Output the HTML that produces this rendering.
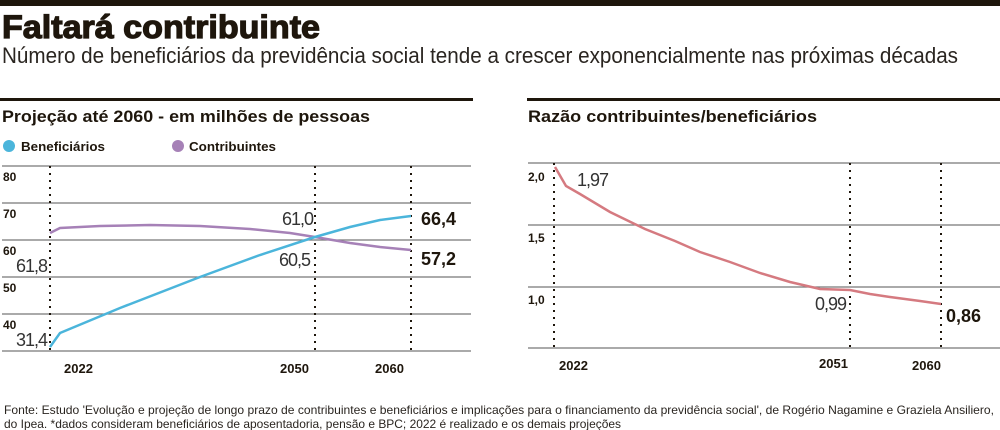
<!DOCTYPE html>
<html><head><meta charset="utf-8"><style>
html,body{margin:0;padding:0;background:#fff;}
svg{display:block;font-family:"Liberation Sans",sans-serif;}
</style></head><body>
<svg width="1000" height="430" viewBox="0 0 1000 430">
<rect x="0" y="0" width="1000" height="6" fill="#1e160c"/>
<text x="2" y="38" font-size="32" font-weight="bold" fill="#1e160c" stroke="#1e160c" stroke-width="1.2" textLength="318" lengthAdjust="spacingAndGlyphs">Faltará contribuinte</text>
<text x="2" y="63" font-size="22" fill="#2a2520" textLength="956" lengthAdjust="spacingAndGlyphs">Número de beneficiários da previdência social tende a crescer exponencialmente nas próximas décadas</text>
<rect x="0" y="98" width="473" height="3" fill="#1e160c"/>
<rect x="527" y="98" width="473" height="3" fill="#1e160c"/>
<text x="2" y="122" font-size="17" font-weight="bold" fill="#1e160c" textLength="368" lengthAdjust="spacingAndGlyphs">Projeção até 2060 - em milhões de pessoas</text>
<text x="528" y="122" font-size="17" font-weight="bold" fill="#1e160c" textLength="289" lengthAdjust="spacingAndGlyphs">Razão contribuintes/beneficiários</text>
<!-- legend -->
<circle cx="9" cy="146" r="6" fill="#4bb5db"/>
<text x="21" y="151" font-size="13" font-weight="bold" fill="#1e160c" textLength="84" lengthAdjust="spacingAndGlyphs">Beneficiários</text>
<circle cx="178" cy="146" r="6" fill="#a681b7"/>
<text x="189" y="151" font-size="13" font-weight="bold" fill="#1e160c" textLength="87" lengthAdjust="spacingAndGlyphs">Contribuintes</text>
<!-- left grid -->
<g stroke="#777" stroke-width="1.3">
<line x1="2" y1="166" x2="471" y2="166"/><line x1="2" y1="203" x2="471" y2="203"/><line x1="2" y1="240" x2="471" y2="240"/><line x1="2" y1="277" x2="471" y2="277"/><line x1="2" y1="314" x2="471" y2="314"/><line x1="2" y1="351" x2="471" y2="351"/>
</g>
<g stroke="#1e160c" stroke-width="2" stroke-dasharray="2,5">
<line x1="50" y1="166" x2="50" y2="351"/><line x1="315" y1="166" x2="315" y2="351"/><line x1="411" y1="166" x2="411" y2="351"/>
</g>
<g font-size="12" font-weight="bold" fill="#1e160c">
<text x="3" y="181">80</text><text x="3" y="218">70</text><text x="3" y="255">60</text><text x="3" y="292">50</text><text x="3" y="329">40</text>
</g>
<polyline fill="none" stroke="#a681b7" stroke-width="2.5" points="50,233 60,228 100,226 150,225 200,226 250,229 290,233 315,237 350,243 380,247 411,250"/>
<polyline fill="none" stroke="#4bb5db" stroke-width="2.5" points="50,347 60,333 120,308 200,277 260,255 315,237 350,227 380,220 411,216"/>
<g font-size="18" fill="#333">
<text x="313" y="225" text-anchor="end" letter-spacing="-1">61,0</text>
<text x="310" y="266" text-anchor="end" letter-spacing="-1">60,5</text>
<text x="47" y="272" text-anchor="end" letter-spacing="-1">61,8</text>
<text x="47" y="346" text-anchor="end" letter-spacing="-1">31,4</text>
</g>
<g font-size="18" font-weight="bold" fill="#1e160c">
<text x="421" y="225">66,4</text><text x="421" y="265">57,2</text>
</g>
<g font-size="13" font-weight="bold" fill="#1e160c">
<text x="64" y="373">2022</text><text x="280" y="373">2050</text><text x="375" y="373">2060</text>
</g>
<!-- right grid -->
<g stroke="#777" stroke-width="1.3">
<line x1="528" y1="163" x2="1000" y2="163"/><line x1="528" y1="225" x2="1000" y2="225"/><line x1="528" y1="287" x2="1000" y2="287"/><line x1="528" y1="348" x2="1000" y2="348"/>
</g>
<g stroke="#1e160c" stroke-width="2" stroke-dasharray="2,5">
<line x1="554" y1="163" x2="554" y2="348"/><line x1="850" y1="163" x2="850" y2="348"/><line x1="941" y1="163" x2="941" y2="348"/>
</g>
<g font-size="12" font-weight="bold" fill="#1e160c">
<text x="528" y="181">2,0</text><text x="528" y="242">1,5</text><text x="528" y="304">1,0</text>
</g>
<polyline fill="none" stroke="#d57a80" stroke-width="2.5" points="555,167 566,186 580,194 610,212 645,229 675,241 700,252 730,262 760,273 790,282 820,289 850,290 870,294 890,297 920,301 941,304"/>
<text x="577" y="186" font-size="18" fill="#333" letter-spacing="-1">1,97</text>
<text x="846" y="310" font-size="18" fill="#333" text-anchor="end" letter-spacing="-1">0,99</text>
<text x="946" y="322" font-size="18" font-weight="bold" fill="#1e160c">0,86</text>
<g font-size="13" font-weight="bold" fill="#1e160c">
<text x="559" y="370">2022</text><text x="819" y="368">2051</text><text x="912" y="370">2060</text>
</g>
<!-- footer -->
<text x="4" y="414" font-size="12" fill="#2a2520" textLength="990" lengthAdjust="spacingAndGlyphs">Fonte: Estudo 'Evolução e projeção de longo prazo de contribuintes e beneficiários e implicações para o financiamento da previdência social', de Rogério Nagamine e Graziela Ansiliero,</text>
<text x="4" y="428" font-size="12" fill="#2a2520" textLength="617" lengthAdjust="spacingAndGlyphs">do Ipea. *dados consideram beneficiários de aposentadoria, pensão e BPC; 2022 é realizado e os demais projeções</text>
</svg>
</body></html>
